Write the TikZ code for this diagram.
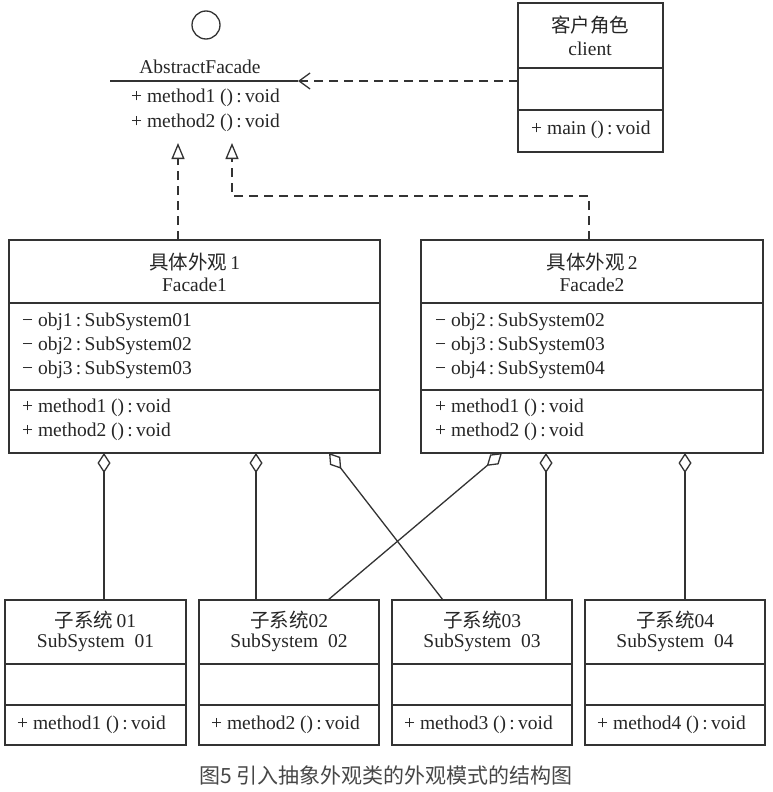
\documentclass[tikz,border=0pt]{standalone}
\usepackage{fontspec}
\setmainfont{Liberation Serif}
\newfontfamily\cjk{Noto Sans CJK SC}
\usetikzlibrary{arrows.meta}
\begin{document}
\begin{tikzpicture}[x=1pt,y=-1pt,
  ln/.style={draw=black!80,line width=1.3pt},
  box/.style={ln,fill=white,inner sep=0pt,outer sep=0pt},
  t/.style={inner sep=0pt,text=black!85,font=\fontsize{19.5}{22}\selectfont},
  tl/.style={t,anchor=west},
  agg/.style={ln,{Diamond[open,length=20pt,width=13pt]}-},
  realz/.style={ln,dash pattern=on 9pt off 6pt,-{Triangle[open,length=16pt,width=13pt]}},
  dep/.style={ln,dash pattern=on 9pt off 6pt,-{Straight Barb[length=11pt,width=16pt]}}]
\useasboundingbox (0,0) rectangle (773,792);

% ---- AbstractFacade (interface) ----
\node[ln,circle,minimum size=28pt,inner sep=0pt] (ifc) at (206,25) {};
\node[t] (afn) at (200,67) {AbstractFacade};
\coordinate (afL) at (110,81);
\coordinate (afR) at (298,81);
\draw[ln] (afL) -- (afR);
\node[tl] (afm1) at (131,98) {+ method1 ()\,:\,void};
\node[tl] (afm2) at (131,123) {+ method2 ()\,:\,void};
\coordinate (t1) at (178,143);
\coordinate (t2) at (232,143);
\coordinate (k2) at (589,196);

% ---- client ----
\node[box,minimum width=145pt,minimum height=149pt] (cl) at (590.5,77.5) {};
\draw[ln] (518,68) -- (663,68);
\draw[ln] (518,110) -- (663,110);
\node[t] (cl1) at (590,25) {\cjk 客户角色};
\node[t] (cl2) at (590,49) {client};
\node[tl] (cl3) at (531,130) {+ main ()\,:\,void};

% ---- Facade1 ----
\node[box,minimum width=371pt,minimum height=213pt] (f1) at (194.5,346.5) {};
\draw[ln] (9,303) -- (380,303);
\draw[ln] (9,390) -- (380,390);
\node[t] (f1a) at (194.5,262) {{\cjk 具体外观}\,1};
\node[t] (f1b) at (194.5,285) {Facade1};
\node[tl] (f1c) at (22,322) {− obj1\,:\,SubSystem01};
\node[tl] (f1d) at (22,346) {− obj2\,:\,SubSystem02};
\node[tl] (f1e) at (22,370) {− obj3\,:\,SubSystem03};
\node[tl] (f1f) at (22,408) {+ method1 ()\,:\,void};
\node[tl] (f1g) at (22,432) {+ method2 ()\,:\,void};

% ---- Facade2 ----
\node[box,minimum width=342pt,minimum height=213pt] (f2) at (592,346.5) {};
\draw[ln] (421,303) -- (763,303);
\draw[ln] (421,390) -- (763,390);
\node[t] (f2a) at (592,262) {{\cjk 具体外观}\,2};
\node[t] (f2b) at (592,285) {Facade2};
\node[tl] (f2c) at (435,322) {− obj2\,:\,SubSystem02};
\node[tl] (f2d) at (435,346) {− obj3\,:\,SubSystem03};
\node[tl] (f2e) at (435,370) {− obj4\,:\,SubSystem04};
\node[tl] (f2f) at (435,408) {+ method1 ()\,:\,void};
\node[tl] (f2g) at (435,432) {+ method2 ()\,:\,void};

% ---- Subsystems ----
\node[box,minimum width=181pt,minimum height=145pt] (s1) at (95.5,672.5) {};
\node[box,minimum width=180pt,minimum height=145pt] (s2) at (289,672.5) {};
\node[box,minimum width=180pt,minimum height=145pt] (s3) at (482,672.5) {};
\node[box,minimum width=180pt,minimum height=145pt] (s4) at (675,672.5) {};
\foreach \l/\r in {5/186,199/379,392/572,585/765}{
  \draw[ln] (\l,664) -- (\r,664);
  \draw[ln] (\l,705) -- (\r,705);
}
\node[t] (s1a) at (95.5,620) {{\cjk 子系统}\,01};
\node[t] (s1b) at (95.5,643) {SubSystem\ \ 01};
\node[tl] (s1c) at (17,725) {+ method1 ()\,:\,void};
\node[t] (s2a) at (289,620) {{\cjk 子系统}02};
\node[t] (s2b) at (289,643) {SubSystem\ \ 02};
\node[tl] (s2c) at (211,725) {+ method2 ()\,:\,void};
\node[t] (s3a) at (482,620) {{\cjk 子系统}03};
\node[t] (s3b) at (482,643) {SubSystem\ \ 03};
\node[tl] (s3c) at (404,725) {+ method3 ()\,:\,void};
\node[t] (s4a) at (675,620) {{\cjk 子系统}04};
\node[t] (s4b) at (675,643) {SubSystem\ \ 04};
\node[tl] (s4c) at (597,725) {+ method4 ()\,:\,void};

% ---- connector end points ----
\coordinate (p1) at (104,453);
\coordinate (p2) at (256,453);
\coordinate (p3) at (329,453);
\coordinate (q1) at (502,453);
\coordinate (q2) at (546,453);
\coordinate (q3) at (685,453);
\coordinate (e3) at (443,600);
\coordinate (e2) at (328,600);

% ---- connectors ----
\draw[dep] (cl.west |- afR) -- (afR);
\draw[realz] (f1.north -| t1) -- (t1);
\draw[realz] (f2.north -| k2) |- (t2 |- k2) -- (t2);
\draw[agg] (p1) -- (s1.north -| p1);
\draw[agg] (p2) -- (s2.north -| p2);
\draw[agg] (p3) -- (e3);
\draw[agg] (q1) -- (e2);
\draw[agg] (q2) -- (s3.north -| q2);
\draw[agg] (q3) -- (s4.north -| q3);

% ---- caption ----
\node[inner sep=0pt,text=black!72,font=\cjk\fontsize{21}{24}\selectfont] (cap) at (386,775) {图5 引入抽象外观类的外观模式的结构图};
\end{tikzpicture}
\end{document}
